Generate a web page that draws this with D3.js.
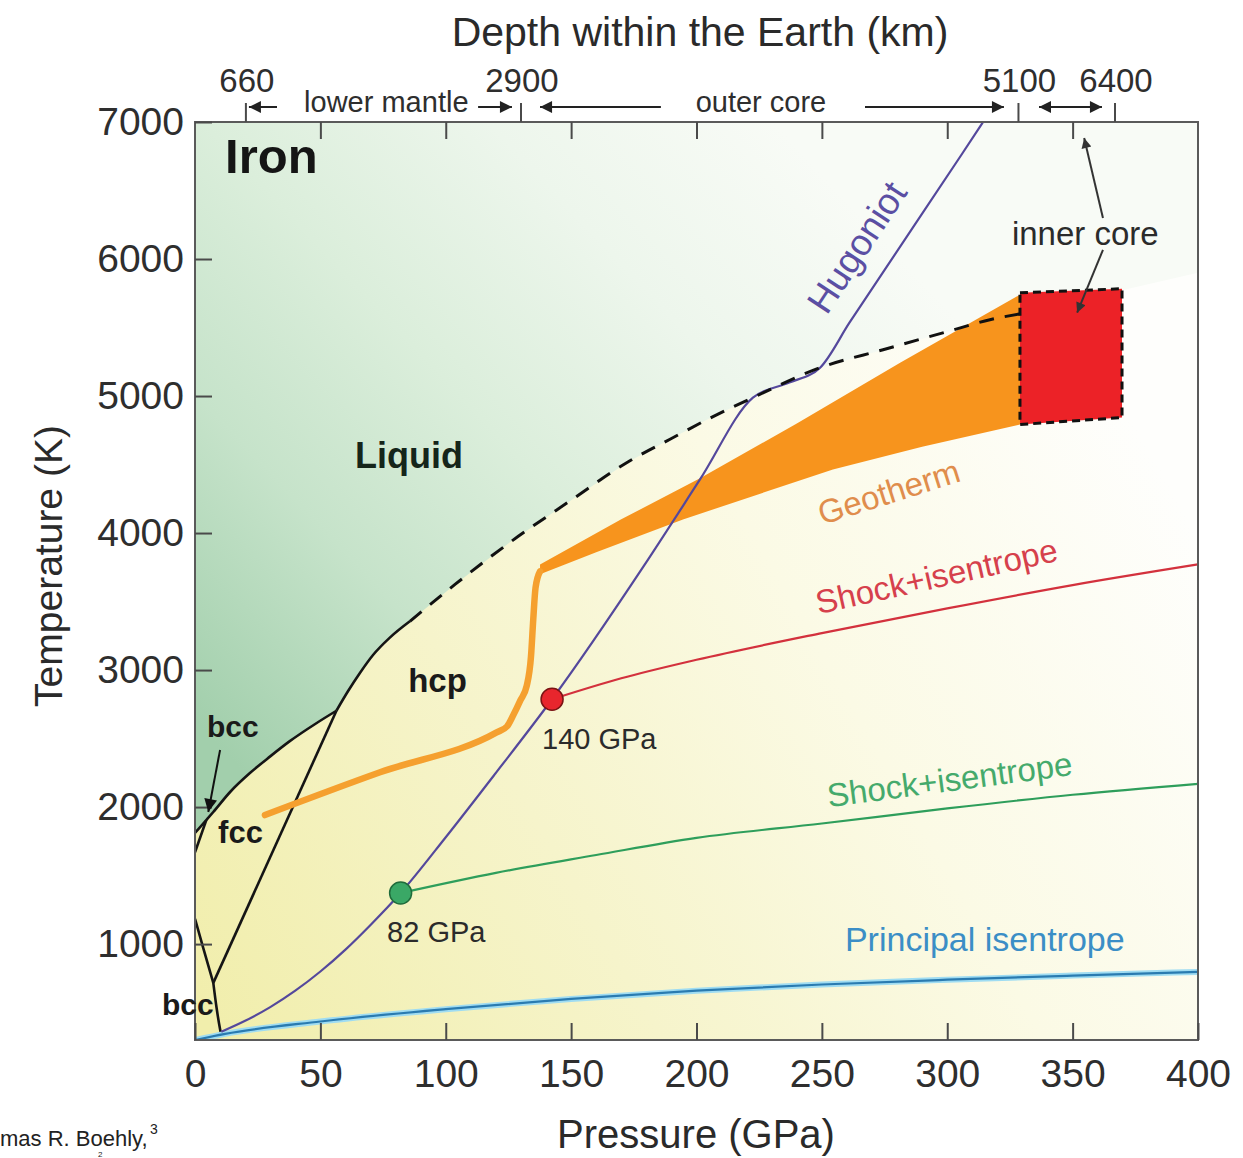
<!DOCTYPE html>
<html>
<head>
<meta charset="utf-8">
<script src="https://cdn.jsdelivr.net/npm/d3@7"></script>
<style>
  body { margin: 0; background: #fff; }
  svg text { font-family: "Liberation Sans", Arial, Helvetica, sans-serif; }
</style>
</head>
<body>
<svg id="chart" width="1243" height="1158"></svg>
<script>
// ---- data (pressure in GPa, temperature in K) ----
const pressureTicks = [0, 50, 100, 150, 200, 250, 300, 350, 400];
const temperatureTicks = [1000, 2000, 3000, 4000, 5000, 6000, 7000];
const depthLabels = ["660", "2900", "5100", "6400"];
const depthPressures = [20.3, 130, 328.4, 366.9];

// phase boundaries
const meltFcc = [[0, 1811], [4.5, 1905], [7.3, 1964], [14, 2110], [21.9, 2248], [30, 2370], [37.8, 2481], [48.4, 2612], [56.4, 2703]];
const meltHcp = [[56.4, 2703], [61, 2845], [65.7, 2977], [71, 3110], [77.6, 3235], [85.7, 3356]];
const meltDashed = [[85.7, 3356], [103.7, 3625], [125.6, 3932], [150, 4240], [172.3, 4515], [190, 4690], [206.6, 4850], [222.5, 4988], [249.3, 5207], [274.4, 5338], [300, 5470], [317, 5557], [329, 5600]];
const deltaGamma = [[0, 1670], [4.5, 1905]];
const alphaGamma = [[0, 1185], [3.3, 970], [7.3, 717]];
const alphaEps = [[7.3, 717], [8.6, 535], [10, 378], [10.5, 330]];
const gammaEps = [[7.3, 717], [56.4, 2703]];

// compression paths
const hugoniot = [[10.5, 360], [20, 440], [30, 540], [40, 660], [50, 800], [60, 960], [70, 1140], [82, 1373], [100, 1780], [120, 2250], [142.4, 2787], [179, 3760], [201.4, 4391], [222.5, 4988], [237, 5098], [249.3, 5207], [261, 5535], [306, 6770], [314.3, 7000]];
const shockRed = [[142.4, 2787], [170, 2940], [200, 3075], [250, 3270], [300, 3450], [350, 3620], [400, 3771]];
const shockGreen = [[82, 1373], [120, 1520], [160, 1650], [200, 1775], [250, 1880], [300, 1990], [350, 2090], [400, 2170]];
const principal = [[0, 300], [12, 345], [50, 435], [100, 525], [150, 600], [200, 660], [250, 705], [300, 740], [350, 770], [400, 797]];
const dotPressures = [82, 142.4];
const dotTemps = [1373, 2787];

// geotherm
const geotherm = [[27.9, 1942], [73.8, 2254], [120.3, 2545], [124.5, 2590], [126.8, 2666], [129.8, 2780], [132.3, 2885], [134, 3100], [134.9, 3370], [135.8, 3600], [137.6, 3720]];
const geoTop = [[137.6, 3770], [170, 4100], [201.4, 4400], [240, 4800], [281.2, 5243], [329, 5740]];
const geoBottom = [[137.6, 3700], [160, 3860], [194.6, 4099], [254.4, 4464], [290, 4630], [329, 4792]];
const innerCore = [[329, 5754], [369.7, 5783], [369.7, 4843], [329, 4792]];

// ---- setup ----
const svg = d3.select("#chart");
const x = d3.scaleLinear().domain([0, 400]).range([195, 1198]);
const y = d3.scaleLinear().domain([300, 7000]).range([1040, 122]);
const FONT = '"Liberation Sans", Arial, Helvetica, sans-serif';

const line = d3.line().x(d => x(d[0])).y(d => y(d[1]));
const smooth = d3.line().x(d => x(d[0])).y(d => y(d[1])).curve(d3.curveMonotoneX);

const defs = svg.append("defs");

function gradient(id, x1, y1, x2, y2, stops) {
  const g = defs.append("linearGradient").attr("id", id)
    .attr("gradientUnits", "userSpaceOnUse")
    .attr("x1", x1).attr("y1", y1).attr("x2", x2).attr("y2", y2);
  stops.forEach(s => g.append("stop").attr("offset", s[0]).attr("stop-color", s[1]));
}
gradient("gYellow", 195, 1000, 1150, 450, [[0, "#f1eeac"], [0.35, "#f6f4cb"], [0.65, "#fbfae5"], [1, "#fefefc"]]);
gradient("gGreen", 195, 720, 800, 150, [[0, "#a2cfac"], [0.27, "#c6e3ca"], [0.5, "#dbeedb"], [0.75, "#edf6ec"], [1, "#f8fbf6"]]);

defs.append("clipPath").attr("id", "plotClip")
  .append("rect").attr("x", 195).attr("y", 122).attr("width", 1003).attr("height", 918);

function marker(id, w, h, color) {
  defs.append("marker").attr("id", id)
    .attr("viewBox", "0 0 10 10").attr("refX", 10).attr("refY", 5)
    .attr("markerUnits", "userSpaceOnUse")
    .attr("markerWidth", w).attr("markerHeight", h)
    .attr("orient", "auto-start-reverse")
    .append("path").attr("d", "M0,0L10,5L0,10Z").attr("fill", color);
}
marker("headTop", 15, 12, "#222");
marker("headSmall", 13, 10, "#333");
marker("headBcc", 15, 13, "#111");

// ---- plot area ----
const plot = svg.append("g").attr("clip-path", "url(#plotClip)");

plot.append("rect").attr("x", 195).attr("y", 122).attr("width", 1003).attr("height", 918)
  .attr("fill", "url(#gYellow)");

// liquid field above the melting curve
const liquid = [[0, 7000]].concat(meltFcc, meltHcp.slice(1), meltDashed.slice(1), [[400, 5900], [400, 7000]]);
plot.append("path").attr("d", line(liquid) + "Z").attr("fill", "url(#gGreen)");

// geotherm band
plot.append("path").attr("d", line(geoTop.concat(geoBottom.slice().reverse())) + "Z")
  .attr("fill", "#f7941d");

// solid phase boundaries
[meltFcc, meltHcp, deltaGamma, alphaGamma, alphaEps, gammaEps].forEach(seg => {
  plot.append("path").attr("d", smooth(seg))
    .attr("fill", "none").attr("stroke", "#151515").attr("stroke-width", 2.6)
    .attr("stroke-linejoin", "round");
});

// principal isentrope (glow + line)
plot.append("path").attr("d", smooth(principal)).attr("fill", "none")
  .attr("stroke", "#9fdcf2").attr("stroke-width", 6);
plot.append("path").attr("d", smooth(principal)).attr("fill", "none")
  .attr("stroke", "#2a7bb0").attr("stroke-width", 2.2);

plot.append("path").attr("d", smooth(shockGreen)).attr("fill", "none")
  .attr("stroke", "#2e9e5b").attr("stroke-width", 2.2);
plot.append("path").attr("d", smooth(shockRed)).attr("fill", "none")
  .attr("stroke", "#d3313d").attr("stroke-width", 2.2);

// Hugoniot
plot.append("path").attr("d", smooth(hugoniot)).attr("fill", "none")
  .attr("stroke", "#54489c").attr("stroke-width", 2.2);

// extrapolated melting curve
plot.append("path").attr("d", smooth(meltDashed)).attr("fill", "none")
  .attr("stroke", "#111").attr("stroke-width", 3).attr("stroke-dasharray", "15,11");

// inner core
plot.append("path").attr("d", line(innerCore) + "Z")
  .attr("fill", "#ec2227").attr("stroke", "#111").attr("stroke-width", 3)
  .attr("stroke-dasharray", "8,5");

// geotherm line
plot.append("path").attr("d", smooth(geotherm)).attr("fill", "none")
  .attr("stroke", "#f5a02f").attr("stroke-width", 6.5).attr("stroke-linecap", "round")
  .attr("stroke-linejoin", "round");

// shock states
const dotColors = ["#3aa866", "#e8262d"];
const dotStroke = ["#1f6b3b", "#7a1414"];
plot.selectAll("circle.shock").data(dotPressures).enter().append("circle")
  .attr("class", "shock")
  .attr("cx", d => x(d)).attr("cy", (d, i) => y(dotTemps[i])).attr("r", 11)
  .attr("fill", (d, i) => dotColors[i]).attr("stroke", (d, i) => dotStroke[i]).attr("stroke-width", 1.5);

// ---- frame and axes ----
svg.append("rect").attr("x", 195).attr("y", 122).attr("width", 1003).attr("height", 918)
  .attr("fill", "none").attr("stroke", "#5a5a5a").attr("stroke-width", 2);

function styleAxis(g) {
  g.select(".domain").remove();
  g.attr("font-family", FONT).attr("font-size", 39).attr("color", "#4a4a4a");
  g.selectAll(".tick line").attr("stroke-width", 2);
  g.selectAll(".tick text").attr("fill", "#2e2e2e");
}

svg.append("g").attr("transform", "translate(0,1040)")
  .call(d3.axisBottom(x).tickValues(pressureTicks).tickFormat(d3.format("d"))
    .tickSizeInner(-17).tickSizeOuter(0).tickPadding(19))
  .call(styleAxis);

svg.append("g").attr("transform", "translate(195,0)")
  .call(d3.axisLeft(y).tickValues(temperatureTicks).tickFormat(d3.format("d"))
    .tickSizeInner(-17).tickSizeOuter(0).tickPadding(11))
  .call(styleAxis);

svg.append("g").attr("transform", "translate(0,122)")
  .call(d3.axisTop(x).tickValues(pressureTicks.slice(1, -1)).tickSizeInner(-17).tickSizeOuter(0).tickFormat(""))
  .call(styleAxis);

// depth axis on top
svg.selectAll("line.depth").data(depthPressures).enter().append("line")
  .attr("class", "depth")
  .attr("x1", d => x(d)).attr("x2", d => x(d)).attr("y1", 103).attr("y2", 122)
  .attr("stroke", "#4a4a4a").attr("stroke-width", 2);
svg.selectAll("text.depth").data(depthPressures).enter().append("text")
  .attr("class", "depth")
  .attr("x", d => x(d) + 1).attr("y", 92).attr("text-anchor", "middle")
  .attr("font-size", 33).attr("fill", "#2e2e2e")
  .text((d, i) => depthLabels[i]);

const depthArrows = [[32.7, 21.5, false], [112.9, 126.4, false], [185.8, 137.6, false], [267.2, 322.6, false], [336.6, 361.7, true]];
depthArrows.forEach(a => {
  const l = svg.append("line").attr("x1", x(a[0])).attr("x2", x(a[1])).attr("y1", 107).attr("y2", 107)
    .attr("stroke", "#222").attr("stroke-width", 2).attr("marker-end", "url(#headTop)");
  if (a[2]) l.attr("marker-start", "url(#headTop)");
});
svg.append("text").attr("x", x(76.3)).attr("y", 112).attr("text-anchor", "middle")
  .attr("font-size", 29).attr("fill", "#2e2e2e").text("lower mantle");
svg.append("text").attr("x", x(225.7)).attr("y", 112).attr("text-anchor", "middle")
  .attr("font-size", 29).attr("fill", "#2e2e2e").text("outer core");

// axis titles
svg.append("text").attr("x", 700).attr("y", 46).attr("text-anchor", "middle")
  .attr("font-size", 41).attr("fill", "#2a2a2a").text("Depth within the Earth (km)");
svg.append("text").attr("x", 696).attr("y", 1148).attr("text-anchor", "middle")
  .attr("font-size", 40).attr("fill", "#2a2a2a").text("Pressure (GPa)");
svg.append("text").attr("transform", "translate(62,566) rotate(-90)").attr("text-anchor", "middle")
  .attr("font-size", 39).attr("fill", "#2a2a2a").text("Temperature (K)");

// ---- annotations ----
function label(txt, p, t, size, opts) {
  opts = opts || {};
  const el = svg.append("text")
    .attr("font-size", size)
    .attr("font-weight", opts.bold ? "bold" : "normal")
    .attr("fill", opts.color || "#2b2b2b")
    .attr("text-anchor", opts.anchor || "start")
    .text(txt);
  if (opts.rotate !== undefined) {
    el.attr("transform", `translate(${x(p)},${y(t)}) rotate(${opts.rotate})`);
  } else {
    el.attr("x", x(p)).attr("y", y(t));
  }
  return el;
}

label("Iron", 12, 6628, 49, { bold: true, color: "#151515" });
label("Liquid", 63.8, 4478, 36, { bold: true, color: "#15251a" });
label("hcp", 85, 2838, 33, { bold: true, color: "#1a1a1a" });
label("bcc", 4.8, 2510, 30, { bold: true, color: "#1a1a1a" });
label("fcc", 9.2, 1738, 31, { bold: true, color: "#1a1a1a" });
label("bcc", -13.2, 484, 30, { bold: true, color: "#1a1a1a" });
label("140 GPa", 138.4, 2423, 29);
label("82 GPa", 76.6, 1016, 29);
label("inner core", 325.8, 6103, 33);
label("Principal isentrope", 259.2, 950, 34, { color: "#3b8ec6" });
label("Geotherm", 278.1, 4220, 33, { color: "#e08d4c", anchor: "middle", rotate: -17.5 });
label("Shock+isentrope", 296.7, 3603, 33, { color: "#d6404c", anchor: "middle", rotate: -12.6 });
label("Shock+isentrope", 301.5, 2117, 33, { color: "#45aa6c", anchor: "middle", rotate: -7.5 });
label("Hugoniot", 268.2, 6035, 37, { color: "#5b4fa3", anchor: "middle", rotate: -56.5 });

// pointer arrows
const pointers = [
  [[10, 2417], [5.3, 1964], "headBcc", "#111"],
  [[362.1, 6300], [354.6, 6883], "headSmall", "#333"],
  [[362.1, 6067], [351.8, 5608], "headSmall", "#333"]
];
pointers.forEach(p => {
  svg.append("line")
    .attr("x1", x(p[0][0])).attr("y1", y(p[0][1]))
    .attr("x2", x(p[1][0])).attr("y2", y(p[1][1]))
    .attr("stroke", p[3]).attr("stroke-width", 2)
    .attr("marker-end", `url(#${p[2]})`);
});

// footer fragment
svg.append("text").attr("x", 0).attr("y", 1146).attr("font-size", 22).attr("fill", "#222").text("mas R. Boehly,");
svg.append("text").attr("x", 150).attr("y", 1134).attr("font-size", 14).attr("fill", "#222").text("3");
svg.append("text").attr("x", 98).attr("y", 1157).attr("font-size", 8).attr("fill", "#222").text("2");
</script>
</body>
</html>
